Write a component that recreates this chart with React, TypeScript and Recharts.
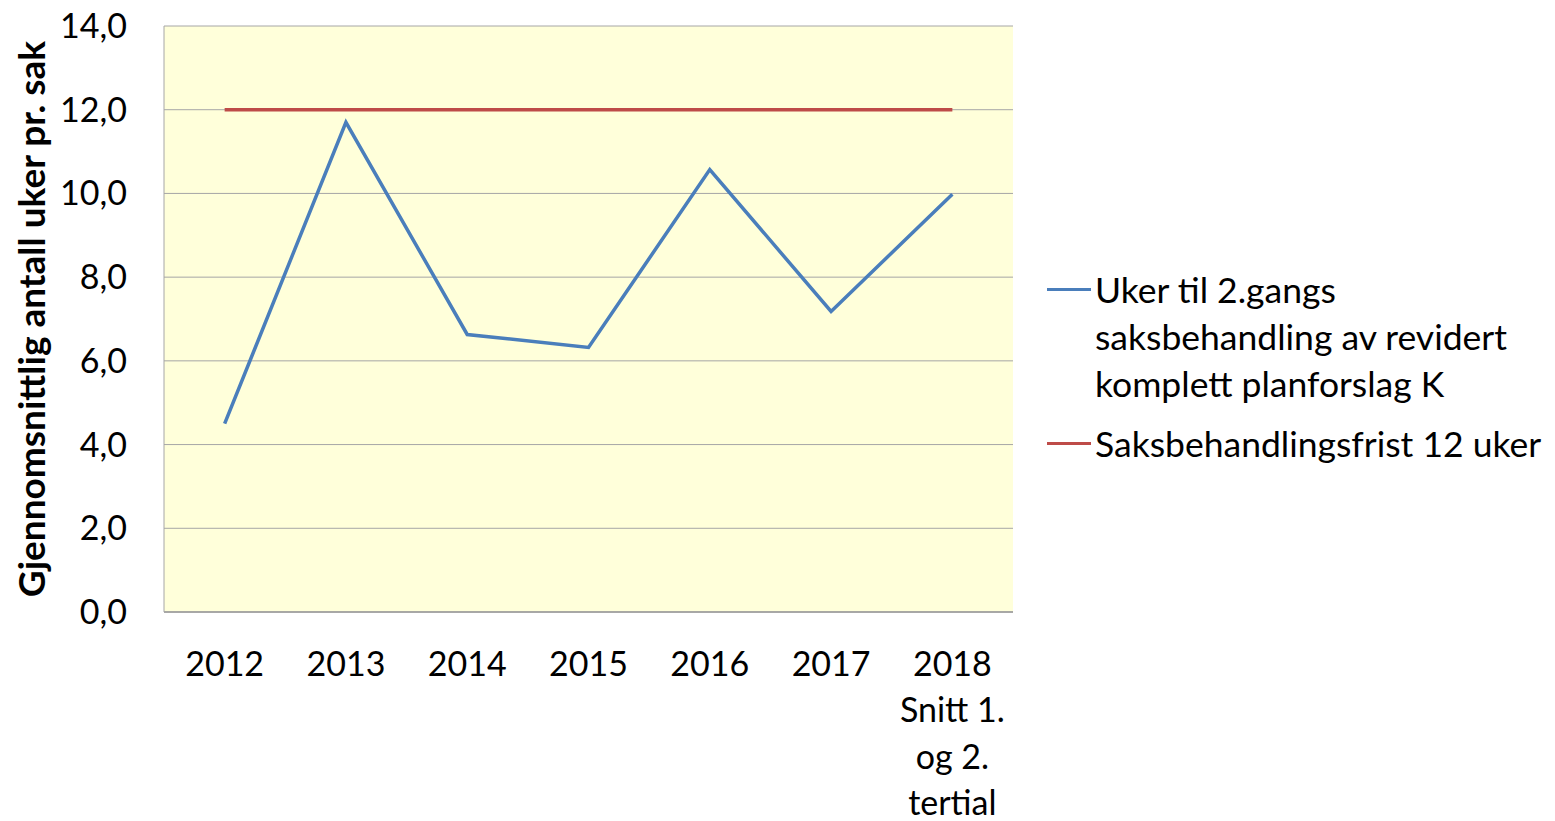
import { LineChart, Line, XAxis, YAxis, CartesianGrid, Legend } from "recharts"

const categories = ["2012", "2013", "2014", "2015", "2016", "2017", "2018\nSnitt 1.\nog 2.\ntertial"]
const ukerValues = [4.5, 11.7, 6.63, 6.32, 10.57, 7.18, 9.98]
const fristValues = [12, 12, 12, 12, 12, 12, 12]
const yTicks = [0, 2, 4, 6, 8, 10, 12, 14]

const SERIES = [
  { key: "uker", name: "Uker til 2.gangs saksbehandling av revidert komplett planforslag K", color: "#4a7ebb" },
  { key: "frist", name: "Saksbehandlingsfrist 12 uker", color: "#be4b48" },
]

const data = categories.map((c, i) => ({ cat: c, uker: ukerValues[i], frist: fristValues[i] }))

const FONT = "Lato, 'Liberation Sans', sans-serif"

// eslint-disable-next-line @typescript-eslint/no-explicit-any
function XTick({ x, y, payload }: any) {
  const lines = String(payload.value).split("\n")
  return (
    <g>
      {lines.map((l, i) => (
        <text
          key={i}
          x={x}
          y={y + 50 + i * 46.5}
          textAnchor="middle"
          dominantBaseline="central"
          fontFamily={FONT}
          fontSize={34}
          fill="#000"
        >
          {l}
        </text>
      ))}
    </g>
  )
}

// eslint-disable-next-line @typescript-eslint/no-explicit-any
function YLabel({ viewBox }: any) {
  const cx = 30
  const cy = viewBox.y + viewBox.height / 2
  return (
    <text
      x={cx}
      y={cy}
      transform={`rotate(-90 ${cx} ${cy})`}
      textAnchor="middle"
      dominantBaseline="central"
      fontFamily={FONT}
      fontWeight={700}
      fontSize={37}
      fill="#000"
    >
      Gjennomsnittlig antall uker pr. sak
    </text>
  )
}

function LegendBox() {
  return (
    <div style={{ fontFamily: FONT, fontSize: 35.5, color: "#000", width: 510, lineHeight: "47px" }}>
      {SERIES.map((s) => (
        <div key={s.key} style={{ display: "flex", alignItems: "flex-start", marginBottom: 13 }}>
          <div style={{ width: 44, height: 3, background: s.color, marginTop: 22, flexShrink: 0 }} />
          <div style={{ marginLeft: 4, width: 462 }}>{s.name}</div>
        </div>
      ))}
    </div>
  )
}

export default function App() {
  return (
    <div style={{ position: "absolute", left: 0, top: 0, background: "#fff" }}>
      <LineChart
        width={1555}
        height={821}
        data={data}
        margin={{ top: 26, right: 542, bottom: 179, left: 0 }}
      >
        <CartesianGrid vertical={false} fill="#ffffda" stroke="#a6a6a6" fillOpacity={1} />
        <XAxis
          dataKey="cat"
          scale="band"
          height={30}
          interval={0}
          tickLine={false}
          tickSize={0}
          tickMargin={0}
          axisLine={{ stroke: "#9a9a9a", strokeWidth: 1.5 }}
          tick={<XTick />}
        />
        <YAxis
          width={164}
          domain={[0, 14]}
          ticks={yTicks}
          tickLine={false}
          tickSize={0}
          tickMargin={37}
          axisLine={{ stroke: "#a6a6a6" }}
          tickFormatter={(v: number) => v.toFixed(1).replace(".", ",")}
          tick={{ fontFamily: FONT, fontSize: 34, fill: "#000" }}
          label={<YLabel />}
        />
        <Legend
          layout="vertical"
          align="center"
          verticalAlign="middle"
          wrapperStyle={{ left: 1047, top: 266, width: 510 }}
          content={<LegendBox />}
        />
        <Line
          type="linear"
          dataKey="frist"
          name={SERIES[1].name}
          stroke={SERIES[1].color}
          strokeWidth={3.5}
          dot={false}
          isAnimationActive={false}
        />
        <Line
          type="linear"
          dataKey="uker"
          name={SERIES[0].name}
          stroke={SERIES[0].color}
          strokeWidth={3.5}
          dot={false}
          isAnimationActive={false}
        />
      </LineChart>
    </div>
  )
}
